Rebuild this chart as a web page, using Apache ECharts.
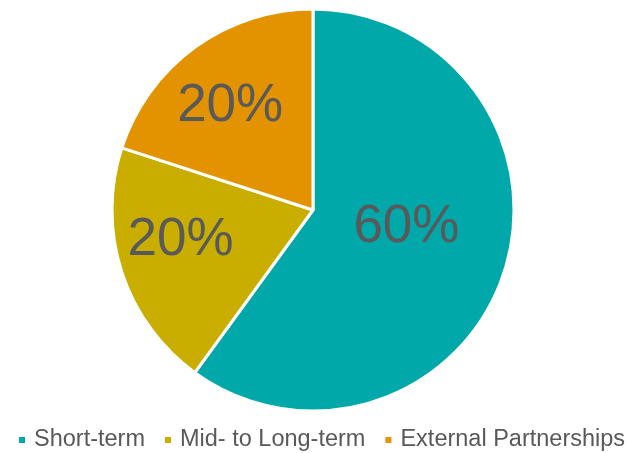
<!DOCTYPE html>
<html>
<head>
<meta charset="utf-8">
<script src="https://cdn.jsdelivr.net/npm/echarts@6/dist/echarts.min.js"></script>
<style>
  html, body { margin: 0; padding: 0; background: #fff; }
  #chart { width: 631px; height: 453px; }
</style>
</head>
<body>
<div id="chart"></div>
<script>
// 数据
const categories = ["Short-term", "Mid- to Long-term", "External Partnerships"];
const values = [60, 20, 20];
const colors = ["#00A8A9", "#C9AE00", "#E39300"];

// 标签微调（Excel 的标签位置与 ECharts 不同）
const labelShift = [[-5, -15], [-34, -2], [-22, -20]];

let chart = echarts.init(document.getElementById("chart"));

let option = {
    animation: false,
    textStyle: { fontFamily: "Liberation Sans, Arial, sans-serif" },
    legend: {
        data: categories,
        top: 428,
        left: 17,
        width: 614,
        padding: 0,
        icon: "rect",
        itemWidth: 8,
        itemHeight: 8,
        itemGap: 18,
        textStyle: { fontSize: 23.5, color: "#595959", padding: [0, 0, 0, 3] }
    },
    series: [{
        type: "pie",
        center: [313, 210],
        radius: 201,
        startAngle: 90,
        clockwise: true,
        itemStyle: { borderColor: "#fff", borderWidth: 3 },
        label: {
            show: true,
            position: "inside",
            formatter: "{c}%",
            fontSize: 53,
            color: "#595959"
        },
        labelLayout: function (params) {
            let s = labelShift[params.dataIndex];
            return { dx: s[0], dy: s[1] };
        },
        emphasis: { disabled: true },
        data: categories.map((name, i) => ({
            name: name,
            value: values[i],
            itemStyle: { color: colors[i] }
        }))
    }]
};

chart.setOption(option);
</script>
</body>
</html>
